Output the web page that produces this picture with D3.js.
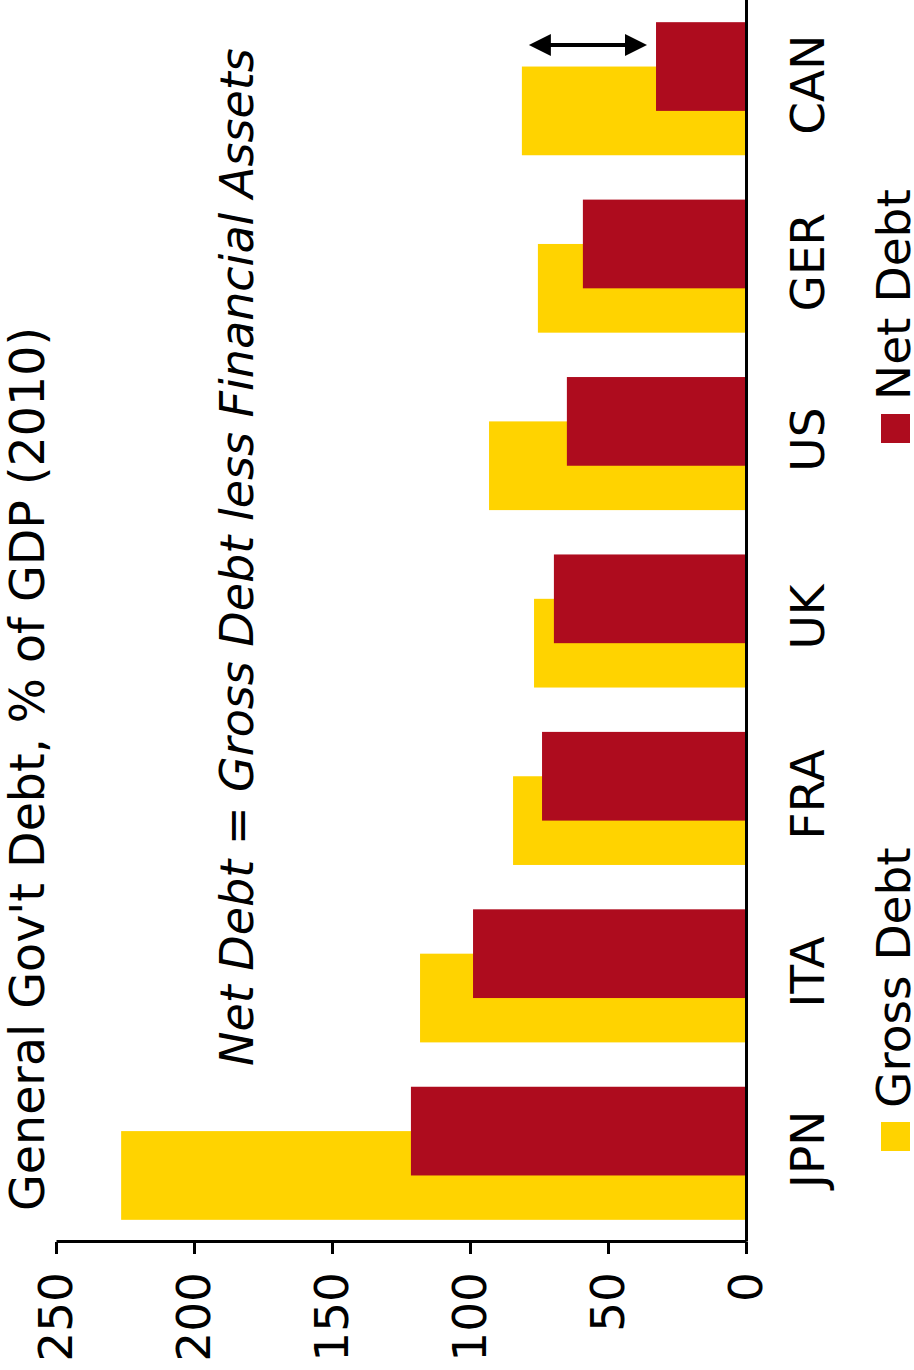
<!DOCTYPE html>
<html>
<head>
<meta charset="utf-8">
<script src="https://cdn.jsdelivr.net/npm/d3@7"></script>
<style>
  html, body { margin: 0; padding: 0; background: #fff; }
  svg { display: block; }
  text { font-family: "DejaVu Sans", Verdana, sans-serif; fill: #000; }
</style>
</head>
<body>
<svg id="chart" width="914" height="1370"></svg>
<script>
// General government debt, % of GDP (2010)
const countries  = ["JPN", "ITA", "FRA", "UK", "US", "GER", "CAN"];
const grossDebt  = [226.4, 118.1, 84.4, 76.8, 93.1, 75.4, 81.2];
const netDebt    = [121.4, 98.9, 73.9, 69.6, 64.9, 59.1, 32.6];
const valueTicks = [0, 50, 100, 150, 200, 250];
const seriesNames = ["Gross Debt", "Net Debt"];
const titleText = "General Gov't Debt, % of GDP (2010)";
const noteText  = "Net Debt = Gross Debt less Financial Assets";
const arrowCountry = "CAN";

const colors = { gross: "#FFD300", net: "#AE0C1E" };

// The chart is laid out landscape (W x H) and turned a quarter-turn counter-clockwise.
const W = 1370, H = 914;
const svg = d3.select("#chart");
const g = svg.append("g").attr("transform", `translate(0,${W}) rotate(-90)`);

const x = d3.scaleBand().domain(countries).range([128, W]).paddingInner(0).paddingOuter(0);
const y = d3.scaleLinear().domain([0, 250]).range([746, 56]);

const barW = x.bandwidth() * 0.5;          // bar thickness
const shift = barW * 0.5;                   // 50% overlap between the two series
const gap = (x.bandwidth() - barW - shift) / 2;

// Gross debt bars
g.append("g").selectAll("rect")
  .data(countries)
  .join("rect")
  .attr("x", d => x(d) + gap)
  .attr("width", barW)
  .attr("y", (d, i) => y(grossDebt[i]))
  .attr("height", (d, i) => y(0) - y(grossDebt[i]))
  .attr("fill", colors.gross);

// Net debt bars
g.append("g").selectAll("rect")
  .data(countries)
  .join("rect")
  .attr("x", d => x(d) + gap + shift)
  .attr("width", barW)
  .attr("y", (d, i) => y(netDebt[i]))
  .attr("height", (d, i) => y(0) - y(netDebt[i]))
  .attr("fill", colors.net);

// Value axis
const yAxis = g.append("g")
  .attr("transform", "translate(128,0)")
  .call(d3.axisLeft(y).tickValues(valueTicks).tickSize(12).tickSizeOuter(0).tickPadding(18));
yAxis.select(".domain").attr("stroke", "#000").attr("stroke-width", 3);
yAxis.selectAll(".tick line").attr("stroke", "#000").attr("stroke-width", 3);
yAxis.selectAll(".tick text").style("font-size", "47px").style("font-family", "DejaVu Sans");

// Category axis
const xAxis = g.append("g")
  .attr("transform", `translate(0,${y(0)})`)
  .call(d3.axisBottom(x).tickSize(0).tickSizeOuter(0).tickPadding(45));
xAxis.select(".domain").attr("stroke", "#000").attr("stroke-width", 3);
xAxis.selectAll(".tick text").style("font-size", "47px").style("font-family", "DejaVu Sans").attr("dx", 4);

// Title and note
g.append("text").attr("x", 159).attr("y", 44).style("font-size", "47.5px").text(titleText);
g.append("text").attr("x", 304).attr("y", 253).style("font-size", "46px").style("font-style", "italic").text(noteText);

// Double-headed arrow marking the gap between gross and net debt
const ai = countries.indexOf(arrowCountry);
const ax = x(arrowCountry) + x.bandwidth() * 0.746;
const a1 = y(grossDebt[ai]) + 7, a2 = y(netDebt[ai]) - 9;
const headL = 22, headH = 11;
const arrow = g.append("g");
arrow.append("line")
  .attr("x1", ax).attr("x2", ax)
  .attr("y1", a1 + headL - 2).attr("y2", a2 - headL + 2)
  .attr("stroke", "#000").attr("stroke-width", 4);
arrow.append("path")
  .attr("d", `M${ax},${a1}L${ax - headH},${a1 + headL}L${ax + headH},${a1 + headL}Z`)
  .attr("fill", "#000");
arrow.append("path")
  .attr("d", `M${ax},${a2}L${ax - headH},${a2 - headL}L${ax + headH},${a2 - headL}Z`)
  .attr("fill", "#000");

// Legend
const legendItems = [
  { name: seriesNames[0], color: colors.gross, at: 219 },
  { name: seriesNames[1], color: colors.net, at: 927 }
];
const lg = g.append("g");
legendItems.forEach(it => {
  lg.append("rect").attr("x", it.at).attr("y", 881).attr("width", 29).attr("height", 29).attr("fill", it.color);
  lg.append("text").attr("x", it.at + 43).attr("y", 910).style("font-size", "47px").text(it.name);
});
</script>
</body>
</html>
